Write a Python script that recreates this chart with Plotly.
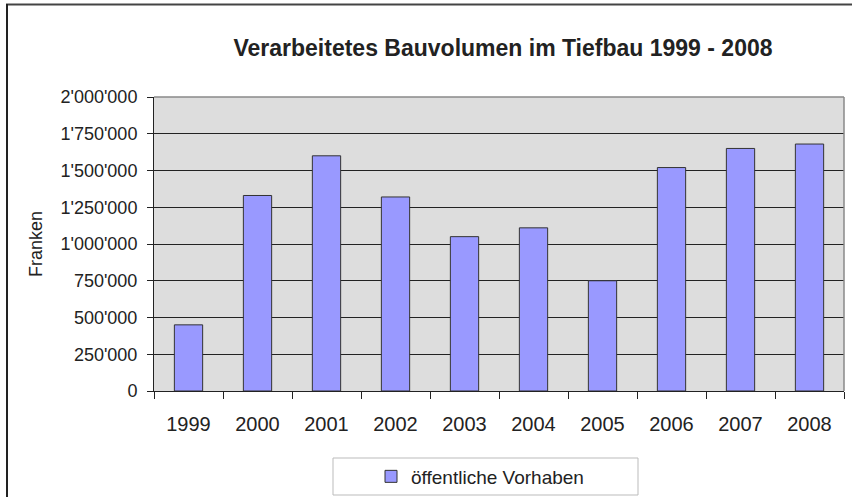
import plotly.graph_objects as go

years = ["1999", "2000", "2001", "2002", "2003", "2004", "2005", "2006", "2007", "2008"]
values = [450000, 1330000, 1600000, 1320000, 1050000, 1110000, 750000, 1520000, 1650000, 1680000]
series_name = "öffentliche Vorhaben"
y_tickvals = [0, 250000, 500000, 750000, 1000000, 1250000, 1500000, 1750000, 2000000]
y_ticktext = ["0", "250'000", "500'000", "750'000", "1'000'000", "1'250'000", "1'500'000", "1'750'000", "2'000'000"]

W, H = 852, 497
L, R, T, B = 154, 8, 97, 106

font = "Liberation Sans, Arial, sans-serif"

fig = go.Figure()
fig.add_trace(go.Bar(
    x=years, y=values, name=series_name,
    marker=dict(color="#9999FF", line=dict(color="#333333", width=1)),
    width=0.41,
))

def px_x(px):
    return (px - L) / (W - L - R)

def px_y(py):
    return (H - B - py) / (H - T - B)

fig.update_layout(
    width=W, height=H,
    margin=dict(l=L, r=R, t=T, b=B, autoexpand=False),
    paper_bgcolor="white",
    plot_bgcolor="#DDDDDD",
    font=dict(family=font, color="#222222"),
    title=dict(text="<b>Verarbeitetes Bauvolumen im Tiefbau 1999 - 2008</b>",
               x=503 / W, xanchor="center", y=1 - 48 / H, yanchor="middle",
               font=dict(size=23, color="#222222", family=font)),
    showlegend=True,
    legend=dict(x=px_x(371), xanchor="left", y=px_y(476.5), yanchor="middle",
                orientation="h", bgcolor="rgba(0,0,0,0)", borderwidth=0,
                font=dict(size=19, color="#222222", family=font)),
    shapes=[
        dict(type="rect", xref="paper", yref="paper",
             x0=px_x(333), x1=px_x(638), y0=px_y(458), y1=px_y(495),
             line=dict(color="#BBBBBB", width=1), fillcolor="rgba(0,0,0,0)"),
        dict(type="line", xref="paper", yref="paper",
             x0=px_x(6), x1=px_x(860), y0=px_y(4.5), y1=px_y(4.5),
             line=dict(color="#444444", width=2)),
        dict(type="line", xref="paper", yref="paper",
             x0=px_x(7), x1=px_x(7), y0=px_y(4), y1=px_y(510),
             line=dict(color="#222222", width=2)),
        dict(type="line", xref="paper", yref="paper",
             x0=0, x1=1, y0=1, y1=1, line=dict(color="#888888", width=1.5)),
        dict(type="line", xref="paper", yref="paper",
             x0=1, x1=1, y0=0, y1=1, line=dict(color="#888888", width=1.5)),
    ],
)

fig.update_xaxes(
    type="category", tickson="boundaries", ticks="outside", ticklen=7,
    tickcolor="#222222", tickwidth=1, showline=True, linecolor="#222222", linewidth=1,
    showgrid=False, tickfont=dict(size=20, color="#222222", family=font),
    ticklabelstandoff=15,
)
fig.update_yaxes(
    range=[0, 2000000], tickvals=y_tickvals, ticktext=y_ticktext,
    ticks="outside", ticklen=6, tickcolor="#222222", tickwidth=1,
    showline=True, linecolor="#222222", linewidth=1,
    showgrid=True, gridcolor="#222222", gridwidth=1, zeroline=False,
    tickfont=dict(size=18, color="#222222", family=font),
    ticklabelstandoff=6,
    title=dict(text="Franken", font=dict(size=18, color="#222222", family=font), standoff=13),
)

fig.write_html("out.html", config={"displayModeBar": False},
               post_script="document.body.style.margin='0';document.body.style.overflow='hidden';")
